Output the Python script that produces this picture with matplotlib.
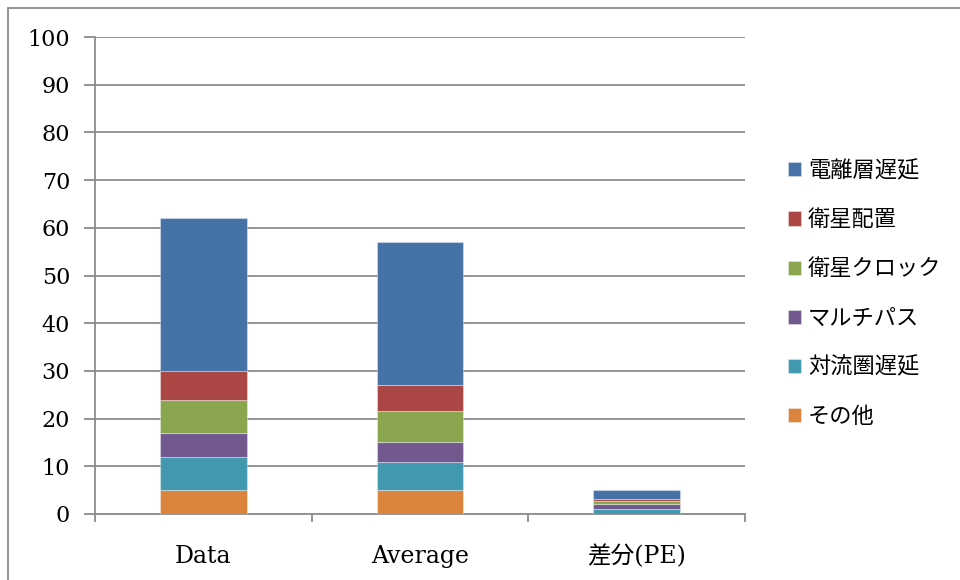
import numpy as np
import matplotlib
matplotlib.use("Agg")
import matplotlib.pyplot as plt
from matplotlib.patches import Rectangle

plt.rcParams['font.family'] = ['DejaVu Serif', 'Noto Sans CJK JP']

# カテゴリと誤差要因ごとの値
categories = ['Data', 'Average', '差分(PE)']
other = [5, 5, 0.1]
troposphere = [7, 6, 1.0]
multipath = [5, 4, 0.9]
sat_clock = [7, 6.5, 0.7]
sat_orbit = [6, 5.5, 0.35]
ionosphere = [32, 30, 1.95]

series = [
    ('その他', other, '#DB843D'),
    ('対流圏遅延', troposphere, '#4198AF'),
    ('マルチパス', multipath, '#71588F'),
    ('衛星クロック', sat_clock, '#89A54E'),
    ('衛星配置', sat_orbit, '#AA4643'),
    ('電離層遅延', ionosphere, '#4572A7'),
]

fig = plt.figure(figsize=(9.6, 5.8), dpi=100)
ax = fig.add_axes([95 / 960, 1 - 514 / 580, 650 / 960, 477 / 580])

x = np.arange(len(categories))
bottom = np.zeros(len(categories))
handles = []
for name, vals, color in series:
    h = ax.bar(x, vals, width=0.4, bottom=bottom, color=color,
               edgecolor=(1, 1, 1, 0.35), linewidth=0.8, label=name, zorder=3)
    handles.append(h)
    bottom += np.array(vals)

ax.set_xlim(-0.5, 2.5)
ax.set_ylim(0, 100)
ax.set_yticks(np.arange(0, 101, 10))
ax.yaxis.grid(True, color='#8c8c8c', linewidth=1.3, zorder=0)
ax.set_axisbelow(True)

ax.set_xticks(x)
ax.set_xticklabels(categories, fontsize=17)
ax.set_xticks([-0.5, 0.5, 1.5, 2.5], minor=True)
ax.tick_params(axis='x', which='major', length=0, pad=22)
ax.tick_params(axis='x', which='minor', length=6, width=1.3, color='#8c8c8c')
ax.tick_params(axis='y', length=8, width=1.3, color='#8c8c8c', labelsize=16, pad=10)

for side in ['top', 'right']:
    ax.spines[side].set_visible(False)
for side in ['left', 'bottom']:
    ax.spines[side].set_color('#8c8c8c')
    ax.spines[side].set_linewidth(1.3)

leg = fig.legend(handles[::-1], [s[0] for s in series][::-1],
                 loc='center left', bbox_to_anchor=(768 / 960, 1 - 294 / 580),
                 frameon=False, fontsize=16, handlelength=0.6, handleheight=0.6,
                 handletextpad=0.3, labelspacing=1.22)

# 外枠
fig.patches.append(Rectangle((8 / 960, -0.5), 2, 0.5 + (580 - 8) / 580,
                             transform=fig.transFigure, fill=False,
                             edgecolor='#8c8c8c', linewidth=1.3))

fig.savefig('out.png', dpi=100)
